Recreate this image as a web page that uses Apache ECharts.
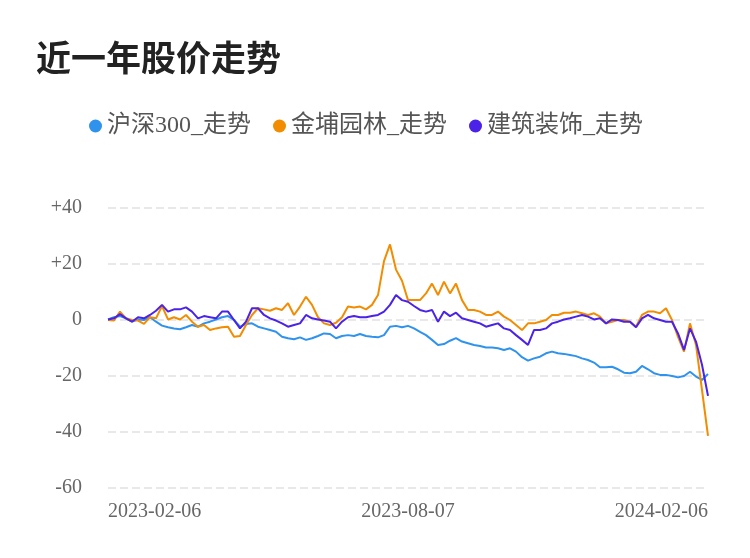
<!DOCTYPE html>
<html lang="en">
<head>
<meta charset="utf-8">
<title>近一年股价走势</title>
<style>
  * { margin: 0; padding: 0; }
  #chart-container { width: 750px; height: 558px; }
</style>
</head>
<body>
<div id="chart-container"></div>
<script src="https://cdn.jsdelivr.net/npm/echarts@6/dist/echarts.min.js"></script>
<script>
// x labels shown at start, middle, end
var xLabels = ['2023-02-06', '2023-08-07', '2024-02-06'];
var yTicks = [-60, -40, -20, 0, 20, 40];

var hs300 = [0.2, 1, 1.4, 0.6, -0.6, 0.2, 0, 1, -0.6, -2, -2.6, -3, -3.3, -2.6, -1.8, -2.4, -1.2, -0.6, 0.2, 1,
  1.4, 0, -2.4, -1.4, -1.2, -2.4, -3, -3.6, -4.2, -6, -6.5, -6.9, -6.2, -7.1, -6.5, -5.7, -4.8, -5, -6.5, -5.7,
  -5.4, -5.7, -5, -5.7, -6, -6.2, -5.4, -2.4, -2.1, -2.6, -2.1, -3, -4.2, -5.4, -7.1, -8.9, -8.6, -7.4, -6.5, -7.7,
  -8.3, -8.9, -9.3, -9.8, -9.8, -10.1, -10.7, -10.1, -11.3, -13.3, -14.5, -13.7, -13.1, -11.9, -11.3, -11.9, -12.1, -12.5, -12.9, -13.7,
  -14.3, -15.2, -16.9, -16.9, -16.7, -17.6, -18.8, -19, -18.5, -16.4, -17.6, -19, -19.6, -19.6, -20, -20.5, -20, -18.5, -20.2, -21.4, -19.3];
var jpyl = [0, -0.2, 3, 0.6, 0, -0.2, -1.4, 1, 0.6, 5, 0.2, 1, 0.2, 1.8, -0.6, -2.4, -1.8, -3.6, -3, -2.6,
  -2.4, -6, -5.7, -1.8, 1.8, 4.2, 3.8, 3.3, 4.2, 3.6, 6, 1.8, 4.8, 8.3, 5.4, 1, -1.2, -1.8, -1, 1,
  4.8, 4.5, 4.8, 3.8, 5.4, 8.9, 21, 27, 18, 14, 7.1, 7.1, 7.1, 9.5, 13, 8.9, 13.7, 9.5, 13, 7.1,
  3.6, 3.6, 3, 1.8, 1.8, 3, 1.2, 0, -1.8, -3.6, -1.2, -1.2, -0.6, 0, 1.8, 1.8, 2.6, 2.6, 3, 2.4,
  1.8, 2.4, 1.2, -1.2, -0.6, 0, 0, -0.6, -2.4, 1.8, 3, 3, 2.4, 4.2, 0, -6, -11.3, -1.2, -8.9, -25, -41.4];
var jzzs = [0.2, 0.6, 2.1, 0.6, -0.6, 1, 0.6, 1.8, 3.3, 5.4, 3, 3.8, 3.8, 4.5, 3, 0.6, 1.4, 1, 0.6, 3,
  3, 0, -3, -0.6, 4.2, 4.2, 1.8, 0.6, -0.2, -1.2, -2.4, -1.8, -1.2, 1.8, 0.6, 0.2, -0.2, -0.6, -3, -0.6,
  1, 1.4, 1, 1, 1.4, 1.8, 3, 5.4, 8.9, 7.1, 6.5, 5, 3.6, 3, 3.6, -0.6, 3, 1.4, 2.6, 0.6,
  0, -0.6, -1.2, -2.4, -1.8, -1.2, -3, -3.6, -5.4, -7.1, -8.9, -3.6, -3.6, -3, -1.2, -0.6, 0.2, 0.6, 1.2, 1.8,
  1.2, 0.2, 0.6, -1.2, 0.2, 0, -0.6, -0.6, -2.6, 0.6, 1.8, 0.6, 0, -0.6, -0.6, -4.8, -10.7, -3, -7.7, -16, -27.1];

var dates = [];
var start = new Date(2023, 1, 6);
for (var i = 0; i < hs300.length; i++) {
  var d = new Date(start.getTime() + Math.round(i * 3.65) * 86400000);
  dates.push(d.getFullYear() + '-' + String(d.getMonth() + 1).padStart(2, '0') + '-' + String(d.getDate()).padStart(2, '0'));
}
var mid = Math.round((hs300.length - 1) / 2);
var last = hs300.length - 1;

var font = "'Liberation Serif', 'Noto Sans CJK SC', serif";
var myChart = echarts.init(document.getElementById('chart-container'), null, { renderer: 'canvas' });

function line(name, data, color) {
  return {
    name: name, type: 'line', data: data, symbol: 'none', smooth: false,
    lineStyle: { width: 2, color: color }, itemStyle: { color: color }
  };
}

var option = {
  animation: false,
  color: ['#2f93ee', '#f28c00', '#4a22e8'],
  title: {
    text: '近一年股价走势', left: 31, top: 35,
    textStyle: { fontSize: 35, fontWeight: 'bold', color: '#222', fontFamily: "'Noto Sans CJK SC', sans-serif" }
  },
  legend: {
    top: 109, left: 84, icon: 'circle', itemWidth: 13, itemHeight: 13, itemGap: 22,
    textStyle: { fontSize: 24, color: '#555', fontFamily: font }
  },
  grid: { left: 108, right: 42, top: 208, bottom: 70 },
  xAxis: {
    type: 'category', data: dates, boundaryGap: false,
    axisLine: { show: false }, axisTick: { show: false },
    axisLabel: {
      interval: 0, fontSize: 20, color: '#666', fontFamily: font, margin: 14,
      alignMinLabel: 'left', alignMaxLabel: 'right',
      formatter: function (v, idx) {
        if (idx === 0) return xLabels[0];
        if (idx === mid) return xLabels[1];
        if (idx === last) return xLabels[2];
        return '';
      }
    }
  },
  yAxis: {
    type: 'value', min: yTicks[0], max: yTicks[yTicks.length - 1], interval: 20,
    axisLabel: {
      fontSize: 20, color: '#666', fontFamily: font, margin: 26,
      formatter: function (v) { return v > 0 ? '+' + v : String(v); }
    },
    splitLine: { lineStyle: { type: 'dashed', color: '#e8e8e8', width: 2 } }
  },
  series: [
    line('沪深300_走势', hs300, '#2f93ee'),
    line('金埔园林_走势', jpyl, '#f28c00'),
    line('建筑装饰_走势', jzzs, '#4a22e8')
  ]
};
myChart.setOption(option);
window.addEventListener('resize', myChart.resize);
</script>
</body>
</html>
